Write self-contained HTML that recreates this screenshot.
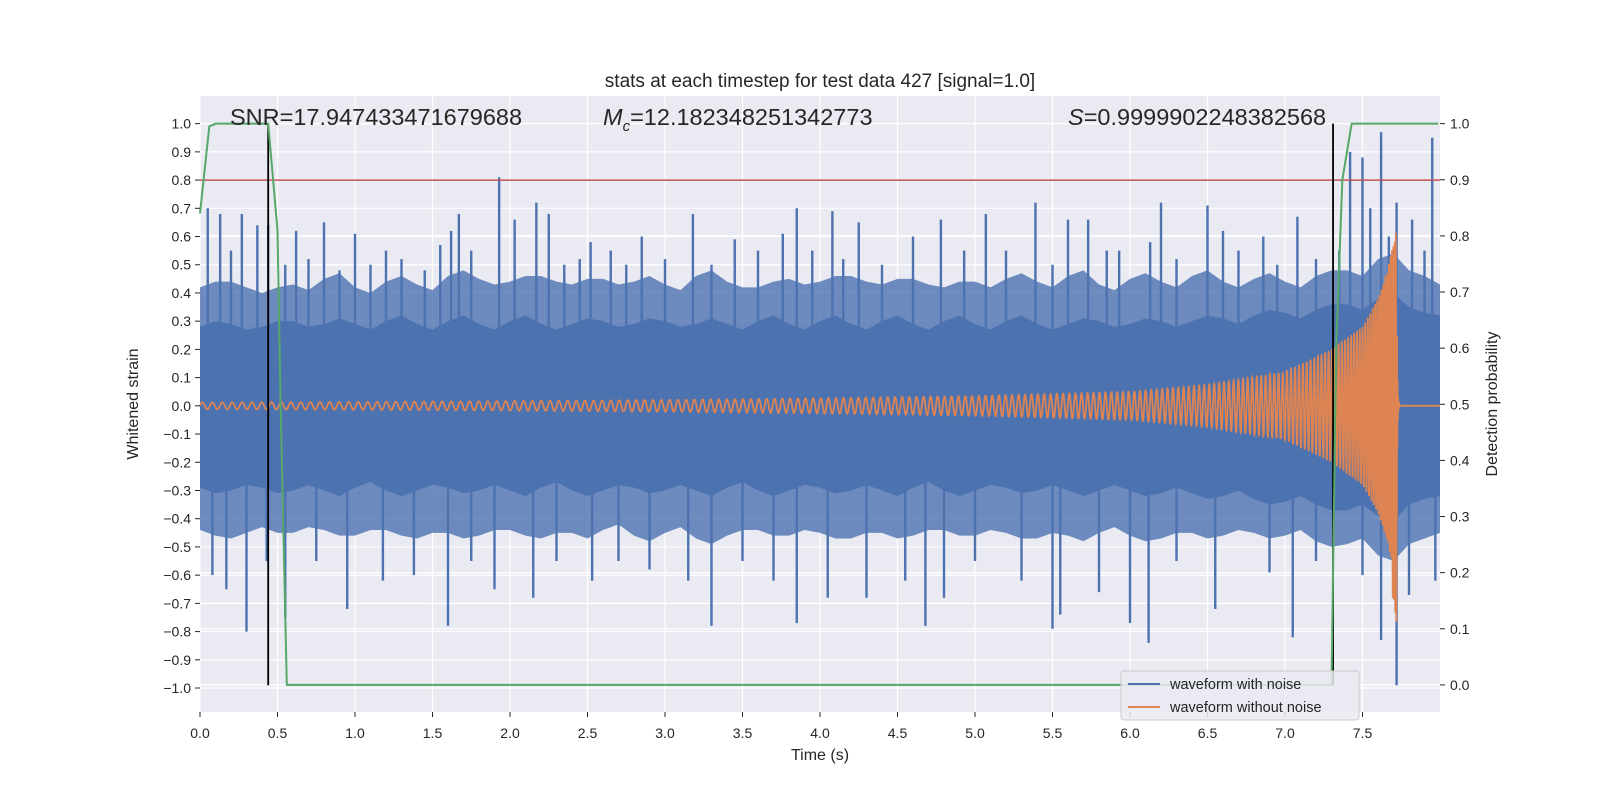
<!DOCTYPE html>
<html><head><meta charset="utf-8"><style>
body{margin:0;background:#fff}
svg{display:block;font-family:"Liberation Sans","DejaVu Sans",sans-serif}
</style></head><body>
<svg id="chart" width="1600" height="800" viewBox="0 0 1600 800">
<rect x="0" y="0" width="1600" height="800" fill="#fff"/>
<rect x="200" y="96" width="1240" height="616" fill="#EAEAF2"/>
<g id="grid"></g>
<g id="series"></g>
<g id="axes"></g>
<text x="820" y="87" text-anchor="middle" font-size="19" fill="#262626">stats at each timestep for test data 427 [signal=1.0]</text>
<text x="230" y="125" font-size="23.5" fill="#262626">SNR=17.947433471679688</text>
<text x="603" y="125" font-size="23.5" fill="#262626"><tspan font-style="italic">M</tspan><tspan font-style="italic" font-size="15" dy="6">c</tspan><tspan dy="-6">=12.182348251342773</tspan></text>
<text x="1068" y="125" font-size="23.5" fill="#262626"><tspan font-style="italic">S</tspan>=0.9999902248382568</text>
<text x="820" y="760" text-anchor="middle" font-size="16" fill="#262626">Time (s)</text>
<text x="0" y="0" transform="translate(138,404) rotate(-90)" text-anchor="middle" font-size="16" fill="#262626">Whitened strain</text>
<text x="0" y="0" transform="translate(1497,404) rotate(-90)" text-anchor="middle" font-size="16" fill="#262626">Detection probability</text>
<g>
<rect x="1121" y="671" width="238" height="49" rx="3" fill="#EAEAF2" fill-opacity="0.85" stroke="#cccccc"/>
<line x1="1128" y1="684" x2="1160" y2="684" stroke="#4C72B0" stroke-width="2"/>
<text x="1170" y="689" font-size="14.5" fill="#262626">waveform with noise</text>
<line x1="1128" y1="707" x2="1160" y2="707" stroke="#DD8452" stroke-width="2"/>
<text x="1170" y="712" font-size="14.5" fill="#262626">waveform without noise</text>
</g>
</svg>
<script>
// ---- data ----
const xTicks = [0,0.5,1,1.5,2,2.5,3,3.5,4,4.5,5,5.5,6,6.5,7,7.5];
const yTicks = [1,0.9,0.8,0.7,0.6,0.5,0.4,0.3,0.2,0.1,0,-0.1,-0.2,-0.3,-0.4,-0.5,-0.6,-0.7,-0.8,-0.9,-1];
const probTicks = [1,0.9,0.8,0.7,0.6,0.5,0.4,0.3,0.2,0.1,0];
const binTimes = [0,0.2,0.4,0.6,0.8,1,1.2,1.4,1.6,1.8,2,2.2,2.4,2.6,2.8,3,3.2,3.4,3.6,3.8,4,4.2,4.4,4.6,4.8,5,5.2,5.4,5.6,5.8,6,6.2,6.4,6.6,6.8,7,7.2,7.4,7.6,7.8,8];
const coreHi = [0.28,0.29,0.28,0.3,0.29,0.29,0.3,0.29,0.3,0.29,0.3,0.29,0.29,0.3,0.29,0.3,0.29,0.29,0.3,0.29,0.3,0.29,0.3,0.29,0.3,0.29,0.3,0.29,0.29,0.3,0.29,0.3,0.3,0.31,0.32,0.33,0.34,0.36,0.38,0.35,0.32];
const coreLo = [-0.29,-0.3,-0.29,-0.3,-0.3,-0.29,-0.3,-0.3,-0.29,-0.3,-0.3,-0.29,-0.3,-0.3,-0.29,-0.3,-0.3,-0.29,-0.3,-0.3,-0.29,-0.3,-0.3,-0.29,-0.3,-0.3,-0.29,-0.3,-0.3,-0.3,-0.3,-0.31,-0.31,-0.32,-0.33,-0.34,-0.35,-0.37,-0.39,-0.35,-0.32];
const midHi = [0.42,0.44,0.4,0.43,0.45,0.42,0.44,0.43,0.46,0.45,0.44,0.46,0.43,0.45,0.44,0.43,0.46,0.44,0.42,0.45,0.44,0.46,0.43,0.45,0.42,0.44,0.45,0.44,0.46,0.43,0.45,0.44,0.46,0.44,0.45,0.44,0.46,0.48,0.52,0.48,0.43];
const midLo = [-0.44,-0.47,-0.43,-0.45,-0.44,-0.46,-0.44,-0.47,-0.45,-0.46,-0.44,-0.47,-0.45,-0.44,-0.46,-0.45,-0.47,-0.46,-0.44,-0.46,-0.45,-0.47,-0.45,-0.46,-0.44,-0.46,-0.45,-0.47,-0.46,-0.45,-0.46,-0.47,-0.45,-0.46,-0.45,-0.46,-0.48,-0.49,-0.53,-0.49,-0.45];
const spikeUpT = [0.05,0.13,0.2,0.27,0.37,0.44,0.55,0.62,0.7,0.8,0.9,1.0,1.1,1.2,1.3,1.45,1.55,1.62,1.67,1.75,1.93,2.03,2.17,2.25,2.35,2.45,2.52,2.65,2.75,2.85,3.0,3.18,3.3,3.45,3.6,3.76,3.85,3.95,4.08,4.15,4.25,4.4,4.6,4.78,4.93,5.07,5.2,5.39,5.5,5.6,5.73,5.85,5.93,6.13,6.2,6.3,6.5,6.6,6.7,6.86,6.95,7.08,7.2,7.35,7.42,7.5,7.55,7.62,7.67,7.72,7.82,7.9,7.95];
const spikeUpV = [0.70,0.68,0.55,0.68,0.64,0.64,0.5,0.62,0.52,0.65,0.48,0.61,0.5,0.55,0.52,0.48,0.57,0.62,0.68,0.55,0.81,0.66,0.72,0.68,0.5,0.52,0.58,0.55,0.5,0.60,0.52,0.68,0.5,0.59,0.55,0.61,0.70,0.55,0.69,0.52,0.65,0.5,0.60,0.66,0.55,0.68,0.55,0.72,0.5,0.66,0.66,0.55,0.55,0.58,0.72,0.52,0.71,0.62,0.55,0.60,0.5,0.67,0.52,0.55,0.90,0.88,0.7,0.97,0.6,0.72,0.66,0.55,0.95];
const spikeDnT = [0.08,0.17,0.3,0.43,0.55,0.75,0.95,1.18,1.38,1.6,1.75,1.9,2.15,2.3,2.53,2.7,2.9,3.15,3.3,3.5,3.7,3.85,4.05,4.3,4.55,4.68,4.8,5.0,5.3,5.5,5.55,5.8,6.0,6.12,6.3,6.55,6.9,7.05,7.2,7.5,7.62,7.72,7.8,7.97];
const spikeDnV = [-0.6,-0.65,-0.8,-0.55,-0.75,-0.55,-0.72,-0.62,-0.6,-0.78,-0.55,-0.65,-0.68,-0.55,-0.62,-0.55,-0.58,-0.62,-0.78,-0.55,-0.62,-0.77,-0.68,-0.68,-0.62,-0.78,-0.68,-0.55,-0.62,-0.79,-0.74,-0.66,-0.77,-0.84,-0.55,-0.72,-0.59,-0.82,-0.55,-0.6,-0.83,-0.99,-0.67,-0.62];
const chirpT = [0,1,2,3,4,5,6,6.5,7,7.3,7.5,7.6,7.66,7.7,7.72];
const chirpAmp = [0.012,0.014,0.017,0.021,0.027,0.035,0.05,0.075,0.12,0.2,0.28,0.38,0.48,0.58,0.65];
const probT = [0,0.06,0.1,0.44,0.5,0.52,0.56,7.3,7.33,7.37,7.43,7.99];
const probV = [0.84,0.995,1.0,1.0,0.81,0.5,0.0,0.0,0.6,0.9,1.0,1.0];
const thresholdStrain = 0.8;
const markerTimes = [0.44,7.31];

// ---- scales ----
const X0=200,X1=1440,Y0=96,Y1=712;
const YMIN=-1.085,YMAX=1.098;
const xs=t=>X0+(t-0)/8.0*(X1-X0);
const ys=v=>Y1-(v-YMIN)/(YMAX-YMIN)*(Y1-Y0);
const yp=p=>ys(1)+(1-p)*(ys(-0.989)-ys(1));
const NS='http://www.w3.org/2000/svg';
function mk(tag,attrs,parent){const e=document.createElementNS(NS,tag);for(const k in attrs)e.setAttribute(k,attrs[k]);parent.appendChild(e);return e;}
const grid=document.getElementById('grid'),ser=document.getElementById('series'),ax=document.getElementById('axes');

xTicks.forEach(t=>{
  const l=mk('line',{x1:xs(t),x2:xs(t),y1:Y0,y2:Y1,stroke:'#fff','stroke-width':1.2},grid);
  
  
  const tk=mk('line',{x1:xs(t),x2:xs(t),y1:Y1,y2:Y1+5,stroke:'#262626','stroke-width':1},ax);
  
  
  const tx=mk('text',{x:xs(t),y:Y1+26,'text-anchor':'middle','font-size':14,fill:'#262626'},ax);
  tx.textContent=t.toFixed(1);
  
  
});
yTicks.forEach(v=>{
  const l=mk('line',{x1:X0,x2:X1,y1:ys(v),y2:ys(v),stroke:'#fff','stroke-width':1.2},grid);
  
  
  const tk=mk('line',{x1:X0-5,x2:X0,y1:ys(v),y2:ys(v),stroke:'#262626','stroke-width':1},ax);
  
  
  const tx=mk('text',{x:X0-9,y:ys(v)+5,'text-anchor':'end','font-size':14,fill:'#262626'},ax);
  tx.textContent=(v<0?'\u2212'+Math.abs(v).toFixed(1):v.toFixed(1));
  
  
});
probTicks.forEach(p=>{
  const l=mk('line',{x1:X0,x2:X1,y1:yp(p),y2:yp(p),stroke:'#fff','stroke-width':1.2},grid);
  
  
  const tk=mk('line',{x1:X1,x2:X1+5,y1:yp(p),y2:yp(p),stroke:'#262626','stroke-width':1},ax);
  
  
  const tx=mk('text',{x:X1+10,y:yp(p)+5,'font-size':14,fill:'#262626'},ax);
  tx.textContent=p.toFixed(1);
  
  
});

function band(hi,lo,op,name){
  let d='M'+xs(binTimes[0])+','+ys(hi[0]);
  for(let i=1;i<binTimes.length;i++){d+='L'+xs(binTimes[i-1]+0.1)+','+ys(hi[i-1]+(i%2?0.02:-0.02))+'L'+xs(binTimes[i])+','+ys(hi[i]);}
  for(let i=binTimes.length-1;i>=0;i--){d+='L'+xs(binTimes[i])+','+ys(lo[i]);if(i>0)d+='L'+xs(binTimes[i]-0.1)+','+ys(lo[i-1]+(i%2?-0.02:0.02));}
  const p=mk('path',{d:d+'Z',fill:'#4C72B0','fill-opacity':op},ser);
  
  
}
band(midHi,midLo,0.8,'noise-outer-band');
band(coreHi,coreLo,1,'noise-core-band');
spikeUpT.forEach((t,i)=>{
  const l=mk('line',{x1:xs(t),x2:xs(t),y1:ys(0),y2:ys(spikeUpV[i]),stroke:'#4C72B0','stroke-width':2.4},ser);
  
  
});
spikeDnT.forEach((t,i)=>{
  const l=mk('line',{x1:xs(t),x2:xs(t),y1:ys(0),y2:ys(spikeDnV[i]),stroke:'#4C72B0','stroke-width':2.4},ser);
  
  
});

function ampAt(t){for(let i=1;i<chirpT.length;i++){if(t<=chirpT[i]){const f=(t-chirpT[i-1])/(chirpT[i]-chirpT[i-1]);return chirpAmp[i-1]+f*(chirpAmp[i]-chirpAmp[i-1]);}}return 0;}
const tc=7.735;let ph=0,d='',dt=0.0008;
for(let t=0;t<=8;t+=dt){
  let a=0;
  if(t<chirpT[chirpT.length-1]){const f=15.5*Math.pow(Math.max(1-t/tc,0.002),-0.375);ph+=2*Math.PI*Math.min(f,300)*dt;a=ampAt(t)*Math.sin(ph);if(t>7.69&&Math.sin(ph)<0)a*=1.2;}
  else if(t<tc+0.01){a=0.65*Math.exp(-(t-7.72)*300)*Math.cos((t-7.72)*2000);}
  d+=(d?'L':'M')+xs(t).toFixed(2)+','+ys(a).toFixed(2);
}
const ch=mk('path',{d:d,fill:'none',stroke:'#DD8452','stroke-width':1.8},ser);



const th=mk('line',{x1:X0,x2:X1,y1:ys(thresholdStrain),y2:ys(thresholdStrain),stroke:'#C44E52','stroke-width':1.5},ser);


markerTimes.forEach(t=>{
  const l=mk('line',{x1:xs(t),x2:xs(t),y1:ys(1),y2:ys(-0.99),stroke:'#000','stroke-width':1.8},ser);
  
  
});
const pp=probT.map((t,i)=>xs(t)+','+yp(probV[i])).join(' ');
const pl=mk('polyline',{points:pp,fill:'none',stroke:'#55A868','stroke-width':2},ser);


</script>
</body></html>
